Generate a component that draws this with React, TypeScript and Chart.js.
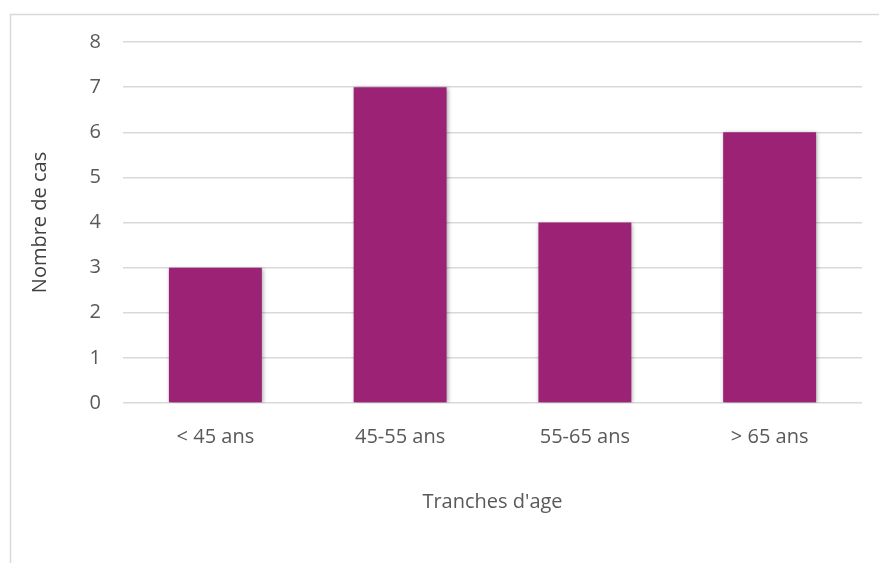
import React, { useEffect, useRef } from "react";
import { Chart, registerables } from "chart.js";

Chart.register(...registerables);

const categories: string[] = ["< 45 ans", "45-55 ans", "55-65 ans", "> 65 ans"];
const cases: number[] = [3, 7, 4, 6];
const yTitle = "Nombre de cas";
const xTitle = "Tranches d'age";

const FONT = "'Open Sans', 'DejaVu Sans', sans-serif";
const TEXT = "#595959";

// Soft drop shadow under each bar
const barShadow = {
  id: "barShadow",
  beforeDatasetDraw(chart: any) {
    const ctx = chart.ctx;
    ctx.save();
    ctx.shadowColor = "rgba(0,0,0,0.35)";
    ctx.shadowBlur = 4;
    ctx.shadowOffsetX = 1;
    ctx.shadowOffsetY = 1;
  },
  afterDatasetDraw(chart: any) {
    chart.ctx.restore();
  },
};

// Thin frame along the top and left of the chart box
const frame = {
  id: "frame",
  beforeDraw(chart: any) {
    const ctx = chart.ctx;
    ctx.save();
    ctx.fillStyle = "#ffffff";
    ctx.fillRect(0, 0, chart.width, chart.height);
    ctx.strokeStyle = "#d9d9d9";
    ctx.lineWidth = 1.5;
    ctx.beginPath();
    ctx.moveTo(10.5, chart.height);
    ctx.lineTo(10.5, 14.5);
    ctx.lineTo(chart.width, 14.5);
    ctx.stroke();
    ctx.restore();
  },
};

export default function App() {
  const ref = useRef<HTMLCanvasElement | null>(null);

  useEffect(() => {
    document.body.style.margin = "0";
    const canvas = ref.current;
    if (!canvas) return;
    const chart = new Chart(canvas, {
      type: "bar",
      data: {
        labels: categories,
        datasets: [
          {
            data: cases,
            backgroundColor: "#9c2276",
            borderWidth: 0,
            barPercentage: 0.503,
            categoryPercentage: 1,
          },
        ],
      },
      plugins: [frame, barShadow],
      options: {
        responsive: false,
        animation: false,
        devicePixelRatio: 1,
        layout: { padding: { left: 10, top: 42, right: 17, bottom: 0 } },
        plugins: {
          legend: { display: false },
          tooltip: { enabled: false },
        },
        scales: {
          x: {
            grid: { display: false },
            border: { display: false },
            ticks: {
              color: TEXT,
              font: { family: FONT, size: 20 },
              padding: 14,
              maxRotation: 0,
            },
            title: {
              display: true,
              text: xTitle,
              color: TEXT,
              font: { family: FONT, size: 20 },
              padding: { top: 49, bottom: 49 },
            },
            afterFit(scale: any) {
              scale.height = 160;
            },
          },
          y: {
            min: 0,
            max: 8,
            ticks: {
              stepSize: 1,
              color: TEXT,
              font: { family: FONT, size: 20 },
              padding: 22,
            },
            grid: {
              color: "#d9d9d9",
              lineWidth: 1.5,
              drawTicks: false,
            },
            border: { display: false },
            title: {
              display: true,
              text: yTitle,
              color: "#404040",
              font: { family: FONT, size: 20 },
              padding: { top: 18, bottom: 18 },
            },
            afterFit(scale: any) {
              scale.width = 113;
            },
          },
        },
      },
    });
    return () => chart.destroy();
  }, []);

  return <canvas ref={ref} width={879} height={563} style={{ display: "block" }} />;
}
